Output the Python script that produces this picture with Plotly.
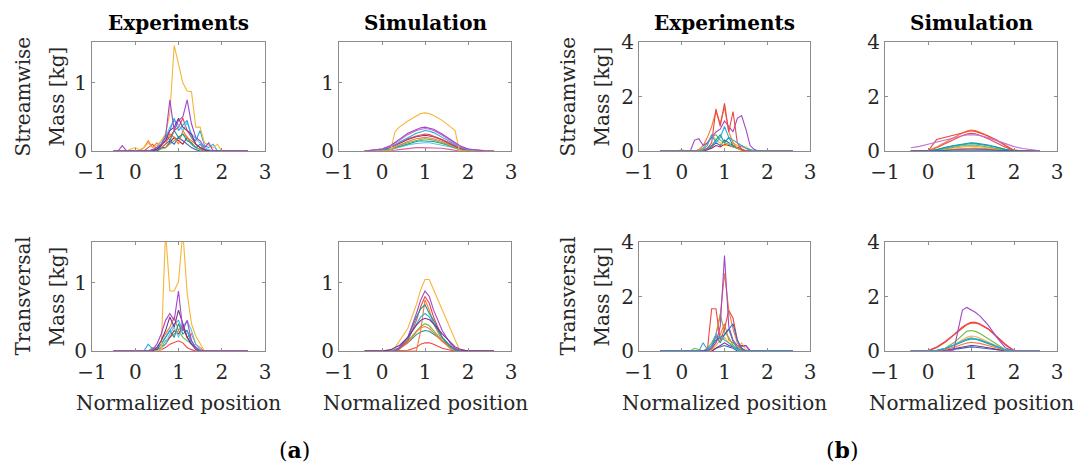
import plotly.graph_objects as go

# ---------------- data ----------------
XE = [-0.5, -0.4, -0.3, -0.2, -0.1, 0.0, 0.1, 0.2, 0.3, 0.4, 0.5, 0.6, 0.7, 0.8, 0.9,
      1.0, 1.1, 1.2, 1.3, 1.4, 1.5, 1.6, 1.7, 1.8, 1.9, 2.0, 2.6]
XS = [-0.4, -0.2, 0.0, 0.2, 0.3, 0.4, 0.6, 0.8, 0.9, 1.0, 1.1, 1.2, 1.4, 1.6, 1.7,
      1.8, 2.0, 2.2, 2.4, 2.6]

X_TICKS = [-1, 0, 1, 2, 3]
Y_TICKS_A = [0, 1]
Y_TICKS_B = [0, 2, 4]

YEL = '#F7B538'; PUR = '#A347C8'; DPUR = '#7E2F8E'; RED = '#EE4540'; DRED = '#C1203B'
ORA = '#F47A35'; GRN = '#76B843'; TEA = '#17999A'; CYA = '#2BAAE2'; LCY = '#52C5EC'
BLU = '#2F6BC5'; PNK = '#E0609A'; VIO = '#C070D8'

# (a) Experiments - streamwise
A_EXP_STREAM = [
    [0,0,0,0,0,0,0,0,0,0, 0.03,0.05,0.05,0.12,0.2, 0.15,0.1,0.2,0.1,0.05, 0.02,0,0,0,0, 0,0],
    [0,0,0,0,0,0,0,0,0,0, 0,0.03,0.05,0.1,0.15, 0.2,0.25,0.2,0.1,0.05, 0.02,0,0,0,0, 0,0],
    [0,0,0,0,0,0,0,0,0,0, 0,0.05,0.1,0.15,0.1, 0.2,0.15,0.1,0.05,0.02, 0,0,0,0,0, 0,0],
    [0,0,0,0,0,0,0,0.05,0.15,0.05, 0.12,0.05,0.1,0.25,0.2, 0.1,0.3,0.2,0.15,0.1, 0.05,0,0,0,0, 0,0],
    [0,0,0,0,0,0,0,0,0,0, 0.02,0.08,0.25,0.15,0.3, 0.2,0.25,0.15,0.12,0.05, 0.1,0.02,0,0,0, 0,0],
    [0,0,0,0,0,0,0,0,0.05,0.1, 0.02,0.1,0.15,0.2,0.3, 0.35,0.48,0.3,0.2,0.1, 0.05,0.02,0,0,0, 0,0],
    [0,0,0,0,0,0,0,0,0,0.02, 0.05,0.15,0.2,0.35,0.45, 0.38,0.3,0.42,0.25,0.18, 0.12,0.05,0.02,0,0, 0,0],
    [0,0,0,0,0,0,0,0,0,0, 0.05,0.1,0.2,0.3,0.48, 0.3,0.38,0.45,0.2,0.15, 0.3,0.08,0.05,0.1,0, 0,0],
    [0,0,0,0,0.03,0.05,0.02,0.05,0.12,0.05, 0.08,0.15,0.25,0.55,1.55, 1.25,1.0,0.88,0.87,0.35, 0.35,0.12,0.08,0.05,0.1, 0,0],
    [0,0,0,0,0,0,0,0,0,0, 0.03,0.08,0.15,0.3,0.35, 0.48,0.35,0.3,0.25,0.1, 0.05,0.02,0,0,0, 0,0],
    [0,0,0.08,0,0,0,0,0,0,0.02, 0.05,0.1,0.2,0.75,0.3, 0.45,0.5,0.75,0.4,0.2, 0.15,0.05,0.12,0,0, 0,0],
]
A_EXP_STREAM_COLORS = [DRED, GRN, BLU, ORA, TEA, RED, LCY, CYA, YEL, DPUR, PUR]

# (a) Experiments - transversal
A_EXP_TRANS = [
    [0,0,0,0,0,0,0,0,0,0, 0,0.02,0.05,0.1,0.12, 0.15,0.12,0.05,0.02,0, 0,0,0,0,0, 0,0],
    [0,0,0,0,0,0,0,0,0,0.05, 0.02,0.05,0.15,0.2,0.25, 0.3,0.2,0.15,0.1,0.05, 0.02,0,0,0,0, 0,0],
    [0,0,0,0,0,0,0,0,0,0.02, 0.05,0.15,0.25,0.35,0.5, 0.3,0.4,0.2,0.25,0.1, 0.05,0,0,0,0, 0,0],
    [0,0,0,0,0,0,0,0,0,0, 0.02,0.1,0.2,0.3,0.2, 0.4,0.25,0.3,0.15,0.05, 0,0,0,0,0, 0,0],
    [0,0,0,0,0,0,0,0,0,0, 0.02,0.05,0.1,0.2,0.3, 0.25,0.35,0.2,0.1,0.05, 0,0,0,0,0, 0,0],
    [0,0,0,0,0,0,0,0,0.1,0.03, 0.05,0.1,0.2,0.3,0.4, 0.45,0.3,0.3,0.1,0.05, 0,0,0,0,0, 0,0],
    [0,0,0,0,0,0,0,0,0,0, 0,0.05,0.1,0.25,0.35, 0.2,0.35,0.45,0.3,0.1, 0.02,0,0,0,0, 0,0],
    [0,0,0,0,0,0,0,0,0,0, 0,0.02,1.75,0.88,0.88, 1.02,1.75,0.85,0.4,0.22, 0.1,0,0,0,0, 0,0],
    [0,0,0,0,0,0,0,0,0,0, 0.05,0.15,0.3,0.5,0.35, 0.6,0.4,0.2,0.1,0.02, 0,0,0,0,0, 0,0],
    [0,0,0,0,0,0,0,0,0,0.02, 0.1,0.25,0.45,0.55,0.45, 0.88,0.3,0.45,0.15,0.05, 0,0,0,0,0, 0,0],
]
A_EXP_TRANS_COLORS = [RED, GRN, ORA, TEA, DRED, CYA, LCY, YEL, DPUR, PUR]

# (a) Simulation - streamwise
A_SIM_STREAM = [
    [0,0,0,0,0.01,0.02,0.04,0.05,0.05,0.05,0.05,0.05,0.04,0.02,0.01,0,0,0,0,0],
    [0,0,0,0.02,0.04,0.06,0.09,0.11,0.12,0.12,0.12,0.11,0.09,0.06,0.04,0.02,0,0,0,0],
    [0,0,0.01,0.03,0.05,0.07,0.11,0.14,0.15,0.15,0.15,0.14,0.11,0.07,0.05,0.03,0.01,0,0,0],
    [0,0,0,0.02,0.05,0.08,0.12,0.16,0.17,0.18,0.17,0.16,0.12,0.08,0.05,0.02,0,0,0,0],
    [0,0,0,0,0.06,0.09,0.14,0.18,0.19,0.2,0.19,0.18,0.14,0.09,0.06,0.02,0,0,0,0],
    [0,0,0.02,0.05,0.08,0.11,0.17,0.21,0.22,0.23,0.22,0.21,0.16,0.1,0.07,0.04,0.01,0,0,0],
    [0,0.01,0.03,0.06,0.09,0.12,0.18,0.22,0.24,0.25,0.24,0.22,0.17,0.11,0.08,0.05,0.02,0.01,0,0],
    [0,0,0.02,0.06,0.09,0.13,0.2,0.26,0.28,0.3,0.29,0.27,0.2,0.13,0.09,0.06,0.02,0,0,0],
    [0,0.01,0.03,0.07,0.11,0.15,0.24,0.3,0.32,0.33,0.32,0.3,0.23,0.15,0.11,0.07,0.03,0.01,0,0],
    [0,0,0,0,0.28,0.35,0.44,0.52,0.55,0.56,0.55,0.52,0.45,0.35,0.3,0.0,0,0,0,0],
    [0,0.01,0.03,0.08,0.12,0.17,0.26,0.32,0.34,0.35,0.34,0.32,0.25,0.16,0.12,0.08,0.03,0.01,0,0],
]
A_SIM_STREAM_COLORS = [PNK, LCY, TEA, GRN, ORA, DPUR, RED, CYA, VIO, YEL, PUR]

# (a) Simulation - transversal
A_SIM_TRANS = [
    [0,0,0,0,0,0,0.01,0.05,0.1,0.12,0.12,0.1,0.04,0.01,0,0,0,0,0,0],
    [0,0,0,0.01,0.02,0.04,0.12,0.24,0.28,0.3,0.29,0.25,0.16,0.07,0.03,0.01,0,0,0,0],
    [0,0,0,0,0.02,0.04,0.15,0.3,0.36,0.4,0.37,0.3,0.15,0.05,0.02,0,0,0,0,0],
    [0,0,0,0,0.01,0.03,0.12,0.28,0.34,0.36,0.33,0.27,0.14,0.05,0.02,0,0,0,0,0],
    [0,0,0,0,0,0,0,0,0.3,0.75,0.6,0.4,0.15,0.03,0,0,0,0,0,0],
    [0,0,0,0,0,0.03,0.15,0.45,0.65,0.8,0.7,0.5,0.2,0.06,0.02,0,0,0,0,0],
    [0,0,0,0,0.02,0.05,0.18,0.4,0.5,0.55,0.5,0.4,0.2,0.06,0.02,0,0,0,0,0],
    [0,0,0,0,0,0.04,0.2,0.5,0.62,0.68,0.55,0.45,0.2,0.06,0.02,0,0,0,0,0],
    [0,0,0,0,0.05,0.15,0.33,0.68,0.9,1.05,1.05,0.9,0.6,0.3,0.15,0.02,0,0,0,0],
    [0,0,0,0,0,0.05,0.2,0.55,0.75,0.88,0.8,0.6,0.3,0.1,0.04,0.01,0,0,0,0],
    [0,0,0,0.02,0.05,0.08,0.2,0.38,0.45,0.48,0.46,0.4,0.25,0.12,0.06,0.03,0,0,0,0],
]
A_SIM_TRANS_COLORS = [RED, TEA, GRN, ORA, ORA, RED, CYA, TEA, YEL, PUR, DPUR]

# (b) Experiments - streamwise
B_EXP_STREAM = [
    [0,0,0,0,0,0,0,0,0,0, 0,0.05,0.1,0.2,0.15, 0.25,0.2,0.15,0.1,0.2, 0.1,0.02,0,0,0, 0,0],
    [0,0,0,0,0,0,0,0,0,0, 0,0.05,0.15,0.3,0.2, 0.4,0.3,0.2,0.1,0.05, 0,0,0,0,0, 0,0],
    [0,0,0,0,0,0.05,0,0,0,0.02, 0.1,0.3,0.6,0.4,0.3, 0.2,0.25,0.3,0.2,0.1, 0.15,0.05,0,0,0, 0,0],
    [0,0,0,0,0,0,0,0,0,0.02, 0.1,0.3,0.5,0.6,0.4, 0.3,0.25,0.15,0.1,0.05, 0.02,0,0,0,0, 0,0],
    [0,0,0,0,0,0,0,0,0,0, 0.02,0.1,0.2,0.4,0.6, 0.3,0.5,0.2,0.1,0.05, 0,0,0,0,0, 0,0],
    [0,0,0,0,0,0,0,0,0,0.05, 0.2,0.5,0.9,1.45,1.0, 1.6,0.7,0.3,0.1,0.02, 0,0,0,0,0, 0,0],
    [0,0,0,0,0,0,0,0,0.4,0.45, 0.2,0.3,0.5,0.7,0.8, 1.1,0.9,0.7,1.2,1.3, 0.8,0.2,0.05,0,0, 0,0],
    [0,0,0,0,0,0,0,0,0,0, 0.02,0.1,0.3,1.55,0.9, 1.75,0.7,1.45,0.3,0.05, 0,0,0,0,0, 0,0],
    [0,0,0,0,0,0,0,0,0,0, 0.05,0.2,0.6,0.3,0.5, 0.9,0.5,0.4,0.3,0.2, 0.1,0.05,0,0,0, 0,0],
]
B_EXP_STREAM_COLORS = [DRED, BLU, YEL, GRN, TEA, ORA, PUR, RED, CYA]

# (b) Experiments - transversal
B_EXP_TRANS = [
    [0,0,0,0,0,0,0,0,0,0, 0,0,0,0.1,0.15, 0.2,0.15,0.1,0,0, 0,0,0,0,0, 0,0],
    [0,0,0,0,0,0,0,0,0,0, 0,0,0,0.1,0.2, 0.3,0.2,0.15,0.1,0.2, 0.2,0,0,0,0, 0,0],
    [0,0,0,0,0,0,0,0,0,0, 0,0,0.05,0.2,0.4, 0.5,0.3,0.2,0.1,0.3, 0.05,0,0,0,0, 0,0],
    [0,0,0,0,0,0,0,0,0.1,0.05, 0,0.1,0.3,0.6,1.35, 0.7,0.5,0.2,0.05,0, 0,0,0,0,0, 0,0],
    [0,0,0,0,0,0,0,0,0,0, 0,0,0.1,0.3,0.6, 1.0,0.4,0.3,0.15,0.05, 0,0,0,0,0, 0,0],
    [0,0,0,0,0,0,0,0,0,0, 0,0,0.1,0.55,0.3, 0.6,0.8,0.35,0.1,0, 0,0,0,0,0, 0,0],
    [0,0,0,0,0,0,0,0,0,0, 0,0.05,1.55,1.55,0.4, 0.8,1.5,1.2,0.4,0.05, 0,0,0,0,0, 0,0],
    [0,0,0,0,0,0,0,0,0,0, 0,0,0.1,0.6,1.3, 2.85,1.5,0.8,0.3,0.1, 0,0,0,0,0, 0,0],
    [0,0,0,0,0,0,0,0,0,0, 0,0.02,0.1,0.3,0.9, 3.5,0.9,0.4,0.2,0.15, 0.2,0.02,0,0,0, 0,0],
    [0,0,0,0,0,0,0,0,0,0, 0,0.05,0.2,0.4,0.5, 0.6,0.8,1.0,0.4,0.1, 0,0,0,0,0, 0,0],
    [0,0,0,0,0,0,0,0,0,0, 0.3,0.05,0.2,0.6,0.5, 0.4,0.3,0.15,0.05,0, 0,0,0,0,0, 0,0],
]
B_EXP_TRANS_COLORS = [BLU, DPUR, YEL, GRN, ORA, TEA, RED, ORA, PUR, BLU, CYA]

# (b) Simulation - streamwise
B_SIM_STREAM = [
    [0,0,0.01,0.02,0.03,0.04,0.06,0.07,0.08,0.08,0.08,0.07,0.06,0.04,0.03,0.02,0.01,0,0,0],
    [0,0,0.01,0.03,0.04,0.05,0.08,0.1,0.11,0.12,0.11,0.1,0.08,0.05,0.04,0.02,0,0,0,0],
    [0,0,0.02,0.04,0.06,0.08,0.12,0.16,0.17,0.18,0.17,0.16,0.12,0.08,0.06,0.04,0.01,0,0,0],
    [0,0,0,0.03,0.06,0.09,0.14,0.19,0.21,0.22,0.21,0.19,0.15,0.1,0.07,0.04,0,0,0,0],
    [0,0,0,0.04,0.08,0.12,0.18,0.23,0.26,0.27,0.26,0.24,0.19,0.13,0.09,0.05,0,0,0,0],
    [0,0,0,0.05,0.1,0.14,0.2,0.26,0.28,0.3,0.29,0.27,0.22,0.15,0.1,0.06,0,0,0,0],
    [0,0,0.02,0.12,0.2,0.28,0.44,0.57,0.62,0.65,0.63,0.58,0.45,0.3,0.22,0.14,0.03,0,0,0],
    [0,0,0.02,0.15,0.24,0.33,0.5,0.66,0.73,0.77,0.75,0.7,0.55,0.38,0.28,0.18,0.04,0,0,0],
    [0,0,0,0.42,0.46,0.5,0.6,0.68,0.72,0.74,0.72,0.67,0.55,0.4,0.3,0.18,0,0,0,0],
    [0.12,0.17,0.25,0.33,0.37,0.41,0.5,0.56,0.59,0.6,0.59,0.57,0.49,0.38,0.32,0.26,0.16,0.09,0.04,0.01],
    [0,0,0,0.01,0.01,0.02,0.03,0.04,0.04,0.04,0.04,0.04,0.03,0.02,0.01,0.01,0,0,0,0],
]
B_SIM_STREAM_COLORS = [DPUR, ORA, YEL, GRN, CYA, TEA, RED, ORA, RED, VIO, BLU]

# (b) Simulation - transversal
B_SIM_TRANS = [
    [0,0,0,0,0.01,0.02,0.06,0.11,0.14,0.15,0.14,0.12,0.08,0.04,0.02,0.01,0,0,0,0],
    [0,0,0,0,0.01,0.03,0.08,0.15,0.18,0.2,0.19,0.17,0.12,0.06,0.03,0.01,0,0,0,0],
    [0,0,0,0.01,0.03,0.05,0.14,0.25,0.29,0.32,0.31,0.28,0.2,0.1,0.06,0.02,0,0,0,0],
    [0,0,0,0.02,0.04,0.08,0.22,0.42,0.5,0.55,0.53,0.48,0.33,0.17,0.1,0.04,0,0,0,0],
    [0,0,0,0.02,0.05,0.1,0.3,0.6,0.72,0.75,0.72,0.65,0.45,0.22,0.12,0.05,0,0,0,0],
    [0,0,0,0.02,0.05,0.08,0.2,0.35,0.4,0.44,0.43,0.39,0.28,0.15,0.09,0.04,0,0,0,0],
    [0,0,0,0.12,0.22,0.32,0.58,0.85,0.96,1.02,1.03,0.98,0.8,0.52,0.38,0.22,0.01,0,0,0],
    [0,0,0.02,0.15,0.25,0.35,0.6,0.88,0.98,1.05,1.05,1.0,0.82,0.55,0.4,0.25,0.02,0,0,0],
    [0,0,0,0,0,0,0.04,1.5,1.6,1.52,1.42,1.3,0.95,0.5,0.3,0.12,0,0,0,0],
    [0,0,0,0.03,0.06,0.1,0.22,0.38,0.44,0.48,0.46,0.42,0.3,0.16,0.1,0.05,0,0,0,0],
]
B_SIM_TRANS_COLORS = [BLU, DPUR, ORA, YEL, GRN, TEA, RED, RED, PUR, CYA]

TITLES = ["Experiments", "Simulation", "Experiments", "Simulation"]
ROW_LABELS = ["Streamwise", "Transversal"]

# ---------------- layout helpers (pixel boxes) ----------------
W, H = 1084, 470
FONT = "DejaVu Serif"
AX_COLOR = "#8c8c8c"
TXT = "#262626"

def fx(p):
    return p / W

def fy(p):
    return 1 - p / H

COLS = [(92, 265), (339, 511), (639, 810), (885, 1057)]
ROWS = [(42, 151), (242, 351)]

panels = [
    (0, 0, XE, A_EXP_STREAM, A_EXP_STREAM_COLORS, [0, 1.6], Y_TICKS_A),
    (0, 1, XS, A_SIM_STREAM, A_SIM_STREAM_COLORS, [0, 1.6], Y_TICKS_A),
    (0, 2, XE, B_EXP_STREAM, B_EXP_STREAM_COLORS, [0, 4], Y_TICKS_B),
    (0, 3, XS, B_SIM_STREAM, B_SIM_STREAM_COLORS, [0, 4], Y_TICKS_B),
    (1, 0, XE, A_EXP_TRANS, A_EXP_TRANS_COLORS, [0, 1.6], Y_TICKS_A),
    (1, 1, XS, A_SIM_TRANS, A_SIM_TRANS_COLORS, [0, 1.6], Y_TICKS_A),
    (1, 2, XE, B_EXP_TRANS, B_EXP_TRANS_COLORS, [0, 4], Y_TICKS_B),
    (1, 3, XS, B_SIM_TRANS, B_SIM_TRANS_COLORS, [0, 4], Y_TICKS_B),
]

fig = go.Figure()
layout = {}
for k, (r, c, xs, series, colors, yr, yt) in enumerate(panels, start=1):
    xn = "x" if k == 1 else f"x{k}"
    yn = "y" if k == 1 else f"y{k}"
    for ys, col in zip(series, colors):
        fig.add_trace(go.Scatter(x=xs, y=ys, mode="lines", xaxis=xn, yaxis=yn,
                                 line=dict(color=col, width=1.1), showlegend=False,
                                 hoverinfo="skip"))
    x0, x1 = COLS[c]
    y0, y1 = ROWS[r]
    common = dict(showline=True, mirror="ticks", linecolor=AX_COLOR, linewidth=1,
                  ticks="inside", ticklen=3, tickcolor=AX_COLOR, tickwidth=1,
                  showgrid=False, zeroline=False, automargin=False,
                  tickfont=dict(family=FONT, size=20, color=TXT))
    layout["xaxis" if k == 1 else f"xaxis{k}"] = dict(
        domain=[fx(x0), fx(x1)], range=[-1, 3], tickvals=X_TICKS,
        ticktext=["\u22121", "0", "1", "2", "3"], anchor=yn, ticklabelstandoff=3,
        **common)
    layout["yaxis" if k == 1 else f"yaxis{k}"] = dict(
        domain=[fy(y1), fy(y0)], range=yr, tickvals=yt, anchor=xn, **common)

ann = []
for c, t in enumerate(TITLES):
    x0, x1 = COLS[c]
    ann.append(dict(text=f"<b>{t}</b>", x=fx((x0 + x1) / 2), y=fy(23), xref="paper",
                    yref="paper", showarrow=False, xanchor="center", yanchor="middle",
                    font=dict(family=FONT, size=20, color="black")))
    ann.append(dict(text="Normalized position", x=fx((x0 + x1) / 2), y=fy(403),
                    xref="paper", yref="paper", showarrow=False, xanchor="center",
                    yanchor="middle", font=dict(family=FONT, size=20, color=TXT)))

for r, lab in enumerate(ROW_LABELS):
    yc = (ROWS[r][0] + ROWS[r][1]) / 2
    for (xa, xb) in [(22, 56), (567, 601)]:
        ann.append(dict(text=lab, x=fx(xa), y=fy(yc), xref="paper", yref="paper",
                        showarrow=False, textangle=-90, xanchor="center", yanchor="middle",
                        font=dict(family=FONT, size=20, color=TXT)))
        ann.append(dict(text="Mass [kg]", x=fx(xb), y=fy(yc), xref="paper", yref="paper",
                        showarrow=False, textangle=-90, xanchor="center", yanchor="middle",
                        font=dict(family=FONT, size=20, color=TXT)))

for lab, xc in [("a", 294), ("b", 842)]:
    ann.append(dict(text=f"(<b>{lab}</b>)", x=fx(xc), y=fy(450), xref="paper", yref="paper",
                    showarrow=False, xanchor="center", yanchor="middle",
                    font=dict(family=FONT, size=22, color="black")))

fig.update_layout(width=W, height=H, margin=dict(l=0, r=0, t=0, b=0, autoexpand=False),
                  paper_bgcolor="white", plot_bgcolor="white", annotations=ann,
                  **layout)
fig.write_html("out.html")
